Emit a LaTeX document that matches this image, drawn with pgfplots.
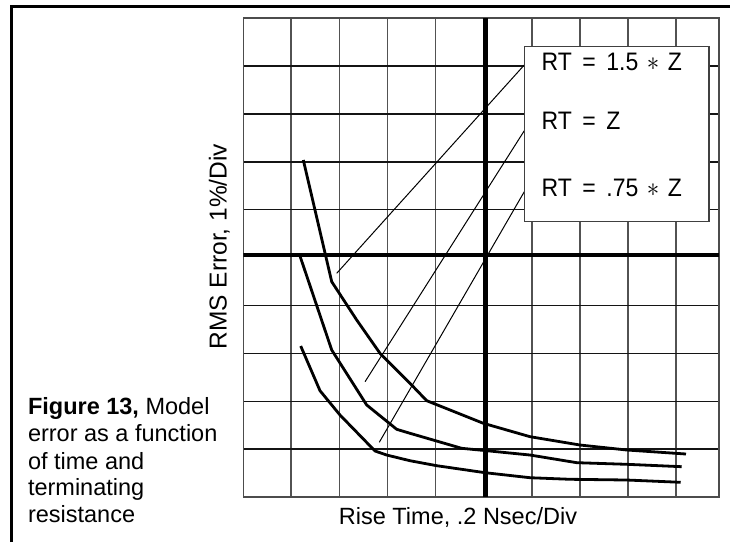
\documentclass[border=0pt]{standalone}
\usepackage{fontspec}
\setmainfont{Liberation Sans}
\usepackage{graphicx}
\usepackage{pgfplots}
\pgfplotsset{compat=1.18}
\newcommand{\bigast}{\hspace{0.37em}{\fontsize{32pt}{32pt}\selectfont$\ast$}\hspace{0.37em}}
\newcommand{\gap}{\hspace{0.46em}}
\begin{document}
\begin{tikzpicture}
\path[use as bounding box] (0pt,0pt) rectangle (730pt,542pt);
% outer frame (top and left)
\draw[line width=2.7pt] (11.3pt,0pt) -- (11.3pt,535.3pt) -- (730pt,535.3pt);
\begin{axis}[
  at={(243.3pt,45pt)}, anchor=south west,
  width=475.7pt, height=478.7pt, scale only axis,
  xmin=0, xmax=9.9, ymin=0, ymax=10,
  xtick={1,2,3,4,5,6,7,8,9}, ytick={1,2,3,4,6,7,8,9},
  xticklabels={}, yticklabels={},
  major tick length=0pt,
  grid=major,
  x grid style={black!68, line width=1.8pt},
  y grid style={black!92, line width=1.4pt},
  axis line style={black!70, line width=1.6pt},
]
% thick centre lines
\draw[line width=4.4pt, black] (axis cs:5.04,0) -- (axis cs:5.04,10);
\draw[line width=4.4pt, black] (axis cs:0,5.055) -- (axis cs:9.9,5.055);
% leader lines
\addplot[black, line width=1pt] coordinates {(5.848,9.025) (1.944,4.673)};
\addplot[black, line width=1pt] coordinates {(5.848,7.652) (2.534,2.409)};
\addplot[black, line width=1pt] coordinates {(5.848,6.378) (2.830,1.143)};
% RT = 1.5 * Z
\addplot[black, line width=2.8pt, line join=round] coordinates {
(1.249,7.040) (1.840,4.498) (2.360,3.698) (2.845,3.002) (3.469,2.375) (3.817,2.012)
(4.995,1.540) (5.967,1.260) (7.007,1.086) (7.979,0.982) (9.213,0.898)};
% RT = Z
\addplot[black, line width=2.8pt, line join=round] coordinates {
(1.180,5.034) (1.840,3.071) (2.568,1.922) (3.193,1.414) (3.469,1.331) (4.545,1.017)
(5.066,0.967) (5.967,0.877) (6.939,0.717) (7.979,0.683) (9.124,0.633)};
% RT = .75 * Z
\addplot[black, line width=2.8pt, line join=round] coordinates {
(1.195,3.154) (1.596,2.221) (2.012,1.713) (2.741,0.961) (2.984,0.877) (3.469,0.758)
(4.025,0.654) (5.030,0.508) (5.967,0.403) (6.799,0.370) (7.979,0.355) (9.103,0.307)};
\end{axis}
% label box
\draw[fill=white, draw=black!75, line width=1.2pt] (524.3pt,320.3pt) rectangle (709pt,495.3pt);
\begin{scope}[every node/.style={inner sep=0pt, outer sep=0pt, font=\fontsize{23.5pt}{27pt}\selectfont}]
\begin{scope}[every node/.append style={font=\fontsize{23pt}{27pt}\selectfont}]
\node[anchor=base west] at (541.6pt,471pt) {\scalebox{1}[1.1]{RT\gap=\gap1.5\bigast Z}};
\node[anchor=base west] at (541.6pt,412.5pt) {\scalebox{1}[1.1]{RT\gap=\gap Z}};
\node[anchor=base west] at (541.6pt,346pt) {\scalebox{1}[1.1]{RT\gap=\gap.75\bigast Z}};
\end{scope}
% axis labels
\node[anchor=base] at (458pt,17.7pt) {Rise Time, .2 Nsec/Div};
\node[anchor=base, rotate=90, font=\fontsize{24.5pt}{28pt}\selectfont] at (226.7pt,295.3pt) {RMS Error, 1\%/Div};
% caption
\node[anchor=base west] at (28pt,128pt) {\bfseries Figure 13,\mdseries{} Model};
\node[anchor=base west] at (28pt,100.3pt) {error as a function};
\node[anchor=base west] at (28pt,73pt) {of time and};
\node[anchor=base west] at (28pt,46.3pt) {terminating};
\node[anchor=base west] at (28pt,19.7pt) {resistance};
\end{scope}
\end{tikzpicture}
\end{document}
